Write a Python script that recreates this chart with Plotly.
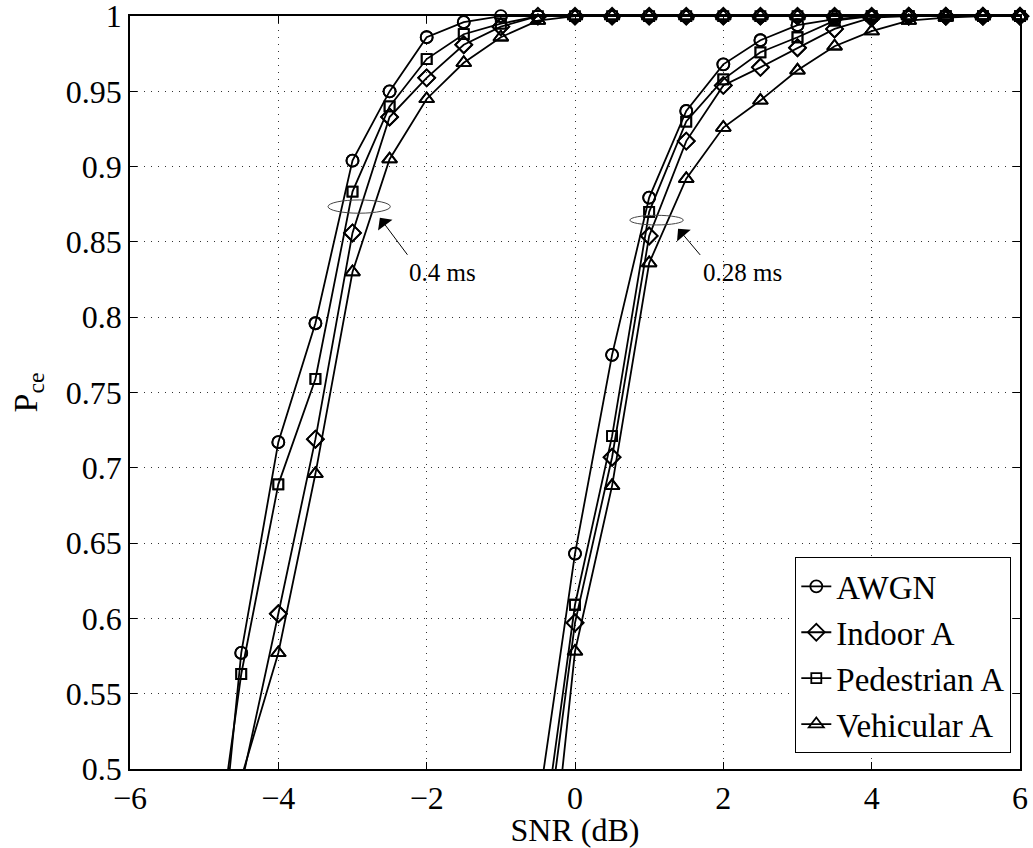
import plotly.graph_objects as go

# SNR grids (dB)
snr_left = [-5, -4.5, -4, -3.5, -3, -2.5, -2, -1.5, -1, -0.5, 0, 0.5, 1, 1.5, 2,
            2.5, 3, 3.5, 4, 4.5, 5, 5.5, 6]
snr_right = [-0.5, 0, 0.5, 1, 1.5, 2, 2.5, 3, 3.5, 4, 4.5, 5, 5.5, 6]

# Probability of correct estimation, 0.4 ms window
awgn_04 = [0.327, 0.577, 0.717, 0.796, 0.904, 0.950, 0.986, 0.996, 1.0, 1.0, 1.0, 1.0,
           1.0, 1.0, 1.0, 1.0, 1.0, 1.0, 1.0, 1.0, 1.0, 1.0, 1.0]
indoor_04 = [0.37, 0.489, 0.603, 0.719, 0.856, 0.933, 0.959, 0.981, 0.993, 1.0, 1.0, 1.0,
             1.0, 1.0, 1.0, 1.0, 1.0, 1.0, 1.0, 1.0, 1.0, 1.0, 1.0]
ped_04 = [0.385, 0.563, 0.689, 0.759, 0.8835, 0.940, 0.9715, 0.988, 0.995, 1.0, 1.0, 1.0,
          1.0, 1.0, 1.0, 1.0, 1.0, 1.0, 1.0, 1.0, 1.0, 1.0, 1.0]
veh_04 = [0.40, 0.494, 0.577, 0.696, 0.830, 0.905, 0.945, 0.969, 0.986, 0.997, 1.0, 1.0,
          1.0, 1.0, 1.0, 1.0, 1.0, 1.0, 1.0, 1.0, 1.0, 1.0, 1.0]

# Probability of correct estimation, 0.28 ms window
awgn_028 = [0.473, 0.643, 0.775, 0.8795, 0.937, 0.968, 0.984, 0.994, 0.998, 1.0, 1.0, 1.0, 1.0, 1.0]
indoor_028 = [0.41, 0.597, 0.707, 0.854, 0.917, 0.954, 0.966, 0.979, 0.9915, 0.999, 1.0, 1.0, 1.0, 1.0]
ped_028 = [0.429, 0.609, 0.721, 0.870, 0.930, 0.958, 0.976, 0.986, 0.997, 1.0, 1.0, 1.0, 1.0, 1.0]
veh_028 = [0.347, 0.578, 0.688, 0.836, 0.892, 0.926, 0.944, 0.964, 0.980, 0.990, 0.997, 0.999, 1.0, 1.0]

channels = ["AWGN", "Indoor A", "Pedestrian A", "Vehicular A"]
symbols = ["circle-open", "diamond-open", "square-open", "triangle-up-open"]
sizes = [12, 13, 10, 13]
series_04 = [awgn_04, indoor_04, ped_04, veh_04]
series_028 = [awgn_028, indoor_028, ped_028, veh_028]

x_ticks = [-6, -4, -2, 0, 2, 4, 6]
x_tick_text = ["\u22126", "\u22124", "\u22122", "0", "2", "4", "6"]
y_ticks = [0.5, 0.55, 0.6, 0.65, 0.7, 0.75, 0.8, 0.85, 0.9, 0.95, 1.0]
y_tick_text = ["0.5", "0.55", "0.6", "0.65", "0.7", "0.75", "0.8", "0.85", "0.9", "0.95", "1"]

Y_MIN, Y_MAX = 0.5, 1.0
FONT = "Liberation Serif, Times New Roman, serif"

fig = go.Figure()
for name, sym, sz, y04, y028 in zip(channels, symbols, sizes, series_04, series_028):
    marker = dict(symbol=sym, size=sz, color="black", line=dict(color="black", width=1.8))
    for k, (xs, ys) in enumerate([(snr_left, y04), (snr_right, y028)]):
        # curve (clipped to the axes box)
        fig.add_trace(go.Scatter(x=xs, y=ys, name=name, legendgroup=name,
                                 showlegend=(k == 0), mode="lines+markers",
                                 line=dict(color="black", width=1.8), marker=marker))
        # markers inside the axis range drawn unclipped so those at P=1 stay whole
        inside = [(x, y) for x, y in zip(xs, ys) if Y_MIN <= y <= Y_MAX]
        fig.add_trace(go.Scatter(x=[p[0] for p in inside], y=[p[1] for p in inside],
                                 legendgroup=name, showlegend=False, mode="markers",
                                 marker=marker, cliponaxis=False, hoverinfo="skip"))

# Ellipses grouping the curves of each window length
fig.add_shape(type="circle", xref="x", yref="y", x0=-3.33, x1=-2.49,
              y0=0.8691, y1=0.8779, line=dict(color="#444444", width=1))
fig.add_shape(type="circle", xref="x", yref="y", x0=0.74, x1=1.46,
              y0=0.8613, y1=0.8677, line=dict(color="#444444", width=1))

arrow = dict(showarrow=True, arrowhead=1, arrowsize=3, arrowwidth=1,
             arrowcolor="black", axref="x", ayref="y", xref="x", yref="y", text="")
fig.add_annotation(x=-2.631, y=0.866, ax=-2.244, ay=0.8405, **arrow)
fig.add_annotation(x=1.390, y=0.8588, ax=1.705, ay=0.8404, **arrow)

label = dict(showarrow=False, xref="x", yref="y", xanchor="left", yanchor="middle",
             font=dict(family=FONT, size=25, color="black"))
fig.add_annotation(x=-2.26, y=0.830, text="0.4 ms", **label)
fig.add_annotation(x=1.70, y=0.830, text="0.28 ms", **label)

axis_common = dict(showline=True, linecolor="black", linewidth=1.5, mirror="allticks",
                   ticks="inside", ticklen=7, tickcolor="black", tickwidth=1,
                   showgrid=True, gridcolor="#333333", gridwidth=1, griddash="1px,6px",
                   zeroline=False, automargin=False, ticklabeloverflow="allow",
                   tickfont=dict(family=FONT, size=32, color="black"))

fig.update_layout(
    width=1033, height=848,
    margin=dict(l=130, r=13, t=16, b=79),
    plot_bgcolor="white", paper_bgcolor="white",
    font=dict(family=FONT, color="black"),
    xaxis=dict(range=[-6, 6], tickvals=x_ticks, ticktext=x_tick_text,
               title=dict(text="SNR (dB)", font=dict(family=FONT, size=32), standoff=6),
               **axis_common),
    yaxis=dict(range=[Y_MIN - 0.0001, Y_MAX + 0.0001], tickvals=y_ticks, ticktext=y_tick_text,
               title=dict(text="P<sub>ce</sub>", font=dict(family=FONT, size=34), standoff=18),
               **axis_common),
    legend=dict(x=0.99, y=0.021, xanchor="right", yanchor="bottom",
                bgcolor="white", bordercolor="black", borderwidth=1.2,
                font=dict(family=FONT, size=33, color="black"),
                tracegroupgap=0),
)

fig.write_html("out.html")
